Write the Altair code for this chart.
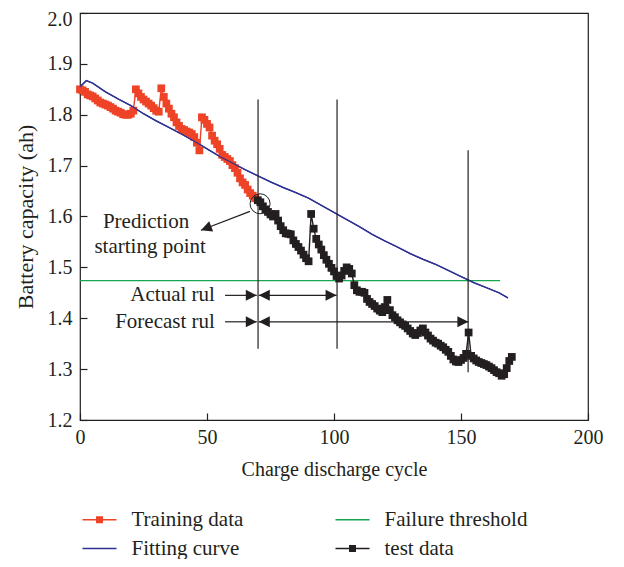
import altair as alt
import pandas as pd

FONT = "Liberation Serif"
RED = "#ee4327"
BLUE = "#2e3192"
GREEN = "#14a650"
BLACK = "#231f20"

# legend fills column by column: first column, then second column
series_names = ["Training data", "Fitting curve", "Failure threshold", "test data"]
series_colors = [RED, BLUE, GREEN, BLACK]

train_cycle = list(range(0, 70))
train_cap = [1.850, 1.848, 1.845, 1.840, 1.838, 1.836, 1.832, 1.828, 1.824, 1.822,
             1.820, 1.818, 1.815, 1.812, 1.808, 1.806, 1.804, 1.801, 1.800, 1.800,
             1.802, 1.808, 1.850, 1.842, 1.835, 1.830, 1.826, 1.822, 1.818, 1.813,
             1.808, 1.806, 1.852, 1.835, 1.822, 1.812, 1.802, 1.795, 1.785, 1.778,
             1.772, 1.770, 1.767, 1.765, 1.762, 1.756, 1.745, 1.730, 1.795, 1.790,
             1.782, 1.775, 1.759, 1.749, 1.742, 1.733, 1.721, 1.717, 1.713, 1.709,
             1.701, 1.695, 1.686, 1.675, 1.667, 1.662, 1.653, 1.646, 1.641, 1.636]

test_cycle = list(range(70, 171))
test_cap = [1.632, 1.628, 1.620, 1.614, 1.609, 1.604, 1.600, 1.605, 1.592, 1.581,
            1.573, 1.567, 1.566, 1.565, 1.553, 1.546, 1.540, 1.533, 1.525, 1.518,
            1.512, 1.605, 1.576, 1.556, 1.545, 1.535, 1.524, 1.515, 1.507, 1.499,
            1.492, 1.483, 1.478, 1.484, 1.493, 1.500, 1.497, 1.488, 1.465, 1.455,
            1.452, 1.452, 1.450, 1.438, 1.432, 1.428, 1.424, 1.419, 1.415, 1.412,
            1.422, 1.436, 1.416, 1.406, 1.402, 1.396, 1.392, 1.388, 1.385, 1.380,
            1.375, 1.370, 1.367, 1.371, 1.376, 1.380, 1.372, 1.366, 1.360, 1.356,
            1.352, 1.350, 1.346, 1.343, 1.338, 1.334, 1.326, 1.319, 1.315, 1.314,
            1.318, 1.322, 1.330, 1.372, 1.326, 1.321, 1.317, 1.314, 1.312, 1.310,
            1.308, 1.305, 1.302, 1.298, 1.294, 1.292, 1.287, 1.290, 1.302, 1.316,
            1.324]

fit_cycle = [0, 2.5, 5, 10, 15, 20, 25, 30, 35, 40, 45, 50, 55, 60, 65, 70, 75, 80,
             85, 90, 95, 100, 105, 110, 115, 120, 125, 130, 135, 140, 145, 150, 153,
             155, 160, 165, 168.5]
fit_cap = [1.855, 1.867, 1.862, 1.845, 1.831, 1.818, 1.802, 1.788, 1.775, 1.762,
           1.748, 1.733, 1.718, 1.705, 1.692, 1.680, 1.668, 1.657, 1.647, 1.636,
           1.622, 1.608, 1.594, 1.580, 1.565, 1.552, 1.540, 1.527, 1.516, 1.506,
           1.494, 1.482, 1.475, 1.470, 1.460, 1.450, 1.440]

thr_cycle = [0, 165.4]
thr_cap = [1.474, 1.474]

x_ticks = [0, 50, 100, 150, 200]
y_ticks = [1.2, 1.3, 1.4, 1.5, 1.6, 1.7, 1.8, 1.9, 2.0]

# annotations
vline_x = [70.1, 101.2, 152.8]
vline_top = [1.83, 1.83, 1.73]
vline_bottom = [1.34, 1.34, 1.294]

row_names = ["Actual rul", "Forecast rul"]
row_y = [1.445, 1.393]
label_right_x = 53.1
lead_start_x = 57.1
lead_tip_x = 69.6
span_start_x = 70.4
span_end_x = [101.0, 152.9]

circle_x = [70.9]
circle_y = [1.625]
pointer_from = (66.9, 1.610)
pointer_to = (47.6, 1.573)
pointer_angle = 339.0
note_lines = ["Prediction", "starting point"]
note_x = [26.0, 27.6]
note_y = [1.590, 1.541]

SYM_LINE = "M-2,-0.088H2V0.088H-2Z"
SYM_MARK = "M-2,-0.088H2V0.088H-2Z M-0.41,-0.41H0.41V0.41H-0.41Z"
HEAD_R = "M0,0L-1,-0.5L-1,0.5Z"
HEAD_L = "M0,0L1,-0.5L1,0.5Z"

lines_df = pd.concat([
    pd.DataFrame({"x": train_cycle, "y": train_cap, "series": "Training data"}),
    pd.DataFrame({"x": thr_cycle, "y": thr_cap, "series": "Failure threshold"}),
    pd.DataFrame({"x": fit_cycle, "y": fit_cap, "series": "Fitting curve"}),
    pd.DataFrame({"x": test_cycle, "y": test_cap, "series": "test data"}),
], ignore_index=True)
train_df = pd.DataFrame({"x": train_cycle, "y": train_cap})
test_df = pd.DataFrame({"x": test_cycle, "y": test_cap})
fit_df = pd.DataFrame({"x": fit_cycle, "y": fit_cap})
vline_df = pd.DataFrame({"x": vline_x, "y": vline_bottom, "y2": vline_top})

shaft_rows = []
head_rows = []
for name, yy, end in zip(row_names, row_y, span_end_x):
    shaft_rows.append({"x": lead_start_x, "x2": lead_tip_x, "y": yy})
    shaft_rows.append({"x": span_start_x, "x2": end, "y": yy})
    head_rows.append({"x": lead_tip_x, "y": yy, "dir": "r"})
    head_rows.append({"x": span_start_x, "y": yy, "dir": "l"})
    head_rows.append({"x": end, "y": yy, "dir": "r"})
shaft_df = pd.DataFrame(shaft_rows)
head_df = pd.DataFrame(head_rows)
row_label_df = pd.DataFrame({"x": [label_right_x] * 2, "y": row_y, "t": row_names})
circle_df = pd.DataFrame({"x": circle_x, "y": circle_y})
pointer_df = pd.DataFrame({"x": [pointer_from[0]], "y": [pointer_from[1]],
                           "x2": [pointer_to[0]], "y2": [pointer_to[1]]})
pointer_head_df = pd.DataFrame({"x": [pointer_to[0]], "y": [pointer_to[1]]})
note_df = pd.DataFrame({"x": note_x, "y": note_y, "t": note_lines})

X = alt.X("x:Q", scale=alt.Scale(domain=[0, 200], nice=False, zero=False),
          axis=alt.Axis(values=x_ticks, title="Charge discharge cycle", offset=-7,
                        tickSize=7, labelPadding=7, titlePadding=12, labelFlush=False,
                        domain=False, grid=False))
Y = alt.Y("y:Q", scale=alt.Scale(domain=[1.2, 2.0], nice=False, zero=False),
          axis=alt.Axis(values=y_ticks, format=".1f", title="Battery capacity (ah)",
                        offset=-7, tickSize=7, labelPadding=8, titlePadding=10,
                        titleFontSize=22, labelFlush=False,
                        labelOffset={"condition": {"test": "datum.value >= 1.99", "value": 6},
                                     "value": 0},
                        domain=False, grid=False))

shape_expr = ("(datum.value === 'Training data' || datum.value === 'test data') ? '"
              + SYM_MARK + "' : '" + SYM_LINE + "'")

legend = alt.Legend(
    title=None, orient="none", legendX=9, legendY=496, columns=2,
    columnPadding=91, rowPadding=7,
    symbolType=alt.ExprRef(expr=shape_expr), symbolSize=289,
    symbolFillColor=alt.ExprRef(expr="scale('color', datum.value)"),
    symbolStrokeWidth=0, symbolOpacity=1,
    labelFont=FONT, labelFontSize=21, labelColor=BLACK,
    labelOffset=21.5, labelLimit=400, padding=0,
)

lines = alt.Chart(lines_df).mark_line(strokeWidth=1.4).encode(
    x=X, y=Y,
    color=alt.Color("series:N", scale=alt.Scale(domain=series_names, range=series_colors),
                    legend=legend),
    detail="series:N",
)
train_pts = alt.Chart(train_df).mark_point(shape="square", filled=True, size=60,
                                           opacity=1, color=RED).encode(x=X, y=Y)
test_pts = alt.Chart(test_df).mark_point(shape="square", filled=True, size=60,
                                         opacity=1, color=BLACK).encode(x=X, y=Y)
fit_line = alt.Chart(fit_df).mark_line(strokeWidth=1.2, color=BLUE).encode(x=X, y=Y)
vlines = alt.Chart(vline_df).mark_rule(color=BLACK, strokeWidth=1.2).encode(
    x=X, y=Y, y2="y2:Q")
shafts = alt.Chart(shaft_df).mark_rule(color=BLACK, strokeWidth=1.2).encode(
    x=X, x2="x2:Q", y=Y)
heads = alt.Chart(head_df).mark_point(filled=True, size=484, opacity=1, color=BLACK,
                                      strokeWidth=0).encode(
    x=X, y=Y,
    shape=alt.Shape("dir:N", scale=alt.Scale(domain=["r", "l"], range=[HEAD_R, HEAD_L]),
                    legend=None))
circle = alt.Chart(circle_df).mark_point(shape="circle", filled=False, size=400,
                                         color=BLACK, strokeWidth=1, opacity=1).encode(
    x=X, y=Y)
pointer = alt.Chart(pointer_df).mark_rule(color=BLACK, strokeWidth=1.2).encode(
    x=X, y=Y, x2="x2:Q", y2="y2:Q")
pointer_head = alt.Chart(pointer_head_df).mark_point(
    shape=HEAD_L, angle=pointer_angle, filled=True, size=484, opacity=1,
    color=BLACK, strokeWidth=0).encode(x=X, y=Y)
row_labels = alt.Chart(row_label_df).mark_text(
    align="right", baseline="middle", font=FONT, fontSize=21, color=BLACK).encode(
    x=X, y=Y, text="t:N")
notes = alt.Chart(note_df).mark_text(
    align="center", baseline="middle", font=FONT, fontSize=21, color=BLACK).encode(
    x=X, y=Y, text="t:N")

chart = alt.layer(
    lines, train_pts, test_pts, fit_line, vlines, shafts, heads, circle,
    pointer, pointer_head, row_labels, notes
).properties(
    width=508, height=407,
    autosize=alt.AutoSizeParams(type="none"),
    padding={"left": 72, "top": 5, "right": 28, "bottom": 139},
    background="white",
).configure_view(
    stroke=BLACK, strokeWidth=1.2
).configure_axis(
    labelFont=FONT, labelFontSize=20, labelColor=BLACK,
    titleFont=FONT, titleFontSize=20, titleFontWeight="normal", titleColor=BLACK,
    tickColor=BLACK, tickWidth=1.2,
)

chart.save("out.html", embed_options={"renderer": "svg", "actions": False})
